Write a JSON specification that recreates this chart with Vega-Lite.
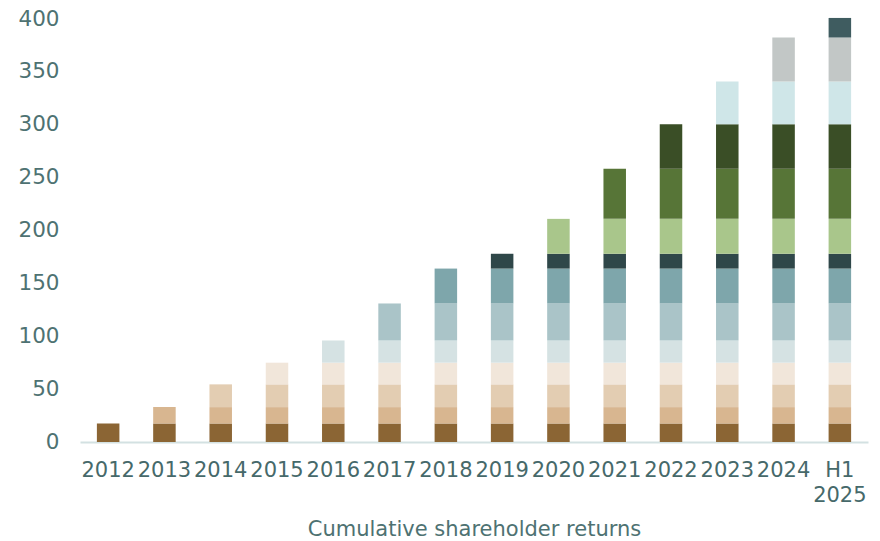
{
  "$schema": "https://vega.github.io/schema/vega-lite/v6.json",
  "autosize": {"type": "none"},
  "width": 788,
  "height": 423,
  "padding": {"left": 80, "top": 19, "right": 12, "bottom": 99},
  "background": "white",
  "config": {
    "view": {"stroke": null},
    "font": "DejaVu Sans",
    "axis": {"labelFont": "DejaVu Sans", "titleFont": "DejaVu Sans"}
  },
  "data": {"values": [
    {"x":"2012","s":"2012","v":17.5},
    {"x":"2013","s":"2012","v":17.5},{"x":"2013","s":"2013","v":15.5},
    {"x":"2014","s":"2012","v":17.5},{"x":"2014","s":"2013","v":15.5},{"x":"2014","s":"2014","v":21.5},
    {"x":"2015","s":"2012","v":17.5},{"x":"2015","s":"2013","v":15.5},{"x":"2015","s":"2014","v":21.5},{"x":"2015","s":"2015","v":20.5},
    {"x":"2016","s":"2012","v":17.5},{"x":"2016","s":"2013","v":15.5},{"x":"2016","s":"2014","v":21.5},{"x":"2016","s":"2015","v":20.5},{"x":"2016","s":"2016","v":21},
    {"x":"2017","s":"2012","v":17.5},{"x":"2017","s":"2013","v":15.5},{"x":"2017","s":"2014","v":21.5},{"x":"2017","s":"2015","v":20.5},{"x":"2017","s":"2016","v":21},{"x":"2017","s":"2017","v":35},
    {"x":"2018","s":"2012","v":17.5},{"x":"2018","s":"2013","v":15.5},{"x":"2018","s":"2014","v":21.5},{"x":"2018","s":"2015","v":20.5},{"x":"2018","s":"2016","v":21},{"x":"2018","s":"2017","v":35},{"x":"2018","s":"2018","v":33},
    {"x":"2019","s":"2012","v":17.5},{"x":"2019","s":"2013","v":15.5},{"x":"2019","s":"2014","v":21.5},{"x":"2019","s":"2015","v":20.5},{"x":"2019","s":"2016","v":21},{"x":"2019","s":"2017","v":35},{"x":"2019","s":"2018","v":33},{"x":"2019","s":"2019","v":14},
    {"x":"2020","s":"2012","v":17.5},{"x":"2020","s":"2013","v":15.5},{"x":"2020","s":"2014","v":21.5},{"x":"2020","s":"2015","v":20.5},{"x":"2020","s":"2016","v":21},{"x":"2020","s":"2017","v":35},{"x":"2020","s":"2018","v":33},{"x":"2020","s":"2019","v":14},{"x":"2020","s":"2020","v":33},
    {"x":"2021","s":"2012","v":17.5},{"x":"2021","s":"2013","v":15.5},{"x":"2021","s":"2014","v":21.5},{"x":"2021","s":"2015","v":20.5},{"x":"2021","s":"2016","v":21},{"x":"2021","s":"2017","v":35},{"x":"2021","s":"2018","v":33},{"x":"2021","s":"2019","v":14},{"x":"2021","s":"2020","v":33},{"x":"2021","s":"2021","v":47.5},
    {"x":"2022","s":"2012","v":17.5},{"x":"2022","s":"2013","v":15.5},{"x":"2022","s":"2014","v":21.5},{"x":"2022","s":"2015","v":20.5},{"x":"2022","s":"2016","v":21},{"x":"2022","s":"2017","v":35},{"x":"2022","s":"2018","v":33},{"x":"2022","s":"2019","v":14},{"x":"2022","s":"2020","v":33},{"x":"2022","s":"2021","v":47.5},{"x":"2022","s":"2022","v":42},
    {"x":"2023","s":"2012","v":17.5},{"x":"2023","s":"2013","v":15.5},{"x":"2023","s":"2014","v":21.5},{"x":"2023","s":"2015","v":20.5},{"x":"2023","s":"2016","v":21},{"x":"2023","s":"2017","v":35},{"x":"2023","s":"2018","v":33},{"x":"2023","s":"2019","v":14},{"x":"2023","s":"2020","v":33},{"x":"2023","s":"2021","v":47.5},{"x":"2023","s":"2022","v":42},{"x":"2023","s":"2023","v":40.5},
    {"x":"2024","s":"2012","v":17.5},{"x":"2024","s":"2013","v":15.5},{"x":"2024","s":"2014","v":21.5},{"x":"2024","s":"2015","v":20.5},{"x":"2024","s":"2016","v":21},{"x":"2024","s":"2017","v":35},{"x":"2024","s":"2018","v":33},{"x":"2024","s":"2019","v":14},{"x":"2024","s":"2020","v":33},{"x":"2024","s":"2021","v":47.5},{"x":"2024","s":"2022","v":42},{"x":"2024","s":"2023","v":40.5},{"x":"2024","s":"2024","v":41.5},
    {"x":"H1 2025","s":"2012","v":17.5},{"x":"H1 2025","s":"2013","v":15.5},{"x":"H1 2025","s":"2014","v":21.5},{"x":"H1 2025","s":"2015","v":20.5},{"x":"H1 2025","s":"2016","v":21},{"x":"H1 2025","s":"2017","v":35},{"x":"H1 2025","s":"2018","v":33},{"x":"H1 2025","s":"2019","v":14},{"x":"H1 2025","s":"2020","v":33},{"x":"H1 2025","s":"2021","v":47.5},{"x":"H1 2025","s":"2022","v":42},{"x":"H1 2025","s":"2023","v":40.5},{"x":"H1 2025","s":"2024","v":41.5},{"x":"H1 2025","s":"H1 2025","v":18.5}
  ]},
  "mark": {"type": "bar"},
  "encoding": {
    "x": {
      "field": "x", "type": "nominal", "sort": null,
      "scale": {"paddingInner": 0.6, "paddingOuter": 0.3},
      "axis": {
        "title": "Cumulative shareholder returns",
        "labelAngle": 0,
        "labelExpr": "split(datum.value, ' ')",
        "labelFontSize": 21,
        "labelColor": "#46696A",
        "labelPadding": 17,
        "labelOverlap": false,
        "labelBound": false,
        "labelLineHeight": 25,
        "ticks": false,
        "tickSize": 0,
        "domainColor": "#D3E1E2",
        "domainWidth": 2,
        "titleFontSize": 21,
        "titleFontWeight": "normal",
        "titleColor": "#4E7272",
        "titlePadding": 13
      }
    },
    "y": {
      "field": "v", "type": "quantitative", "stack": "zero",
      "scale": {"domain": [0, 400], "nice": false},
      "axis": {
        "title": null,
        "values": [0, 50, 100, 150, 200, 250, 300, 350, 400],
        "labelFontSize": 21.5,
        "labelColor": "#4E7272",
        "labelPadding": 21,
        "ticks": false,
        "tickSize": 0,
        "domain": false,
        "grid": false
      }
    },
    "color": {
      "field": "s", "type": "nominal",
      "scale": {
        "domain": ["2012","2013","2014","2015","2016","2017","2018","2019","2020","2021","2022","2023","2024","H1 2025"],
        "range": ["#8B6534","#D8B690","#E3CDB2","#F1E6DA","#D5E2E3","#AAC4C8","#7EA6AB","#2F4749","#A9C68B","#577537","#3A4E26","#CFE6E8","#C2C7C6","#3F5C60"]
      },
      "legend": null
    },
    "order": {"field": "s", "sort": "ascending"}
  }
}
